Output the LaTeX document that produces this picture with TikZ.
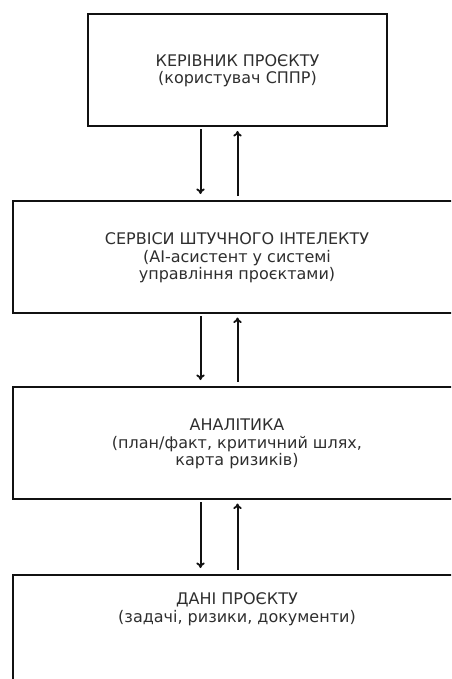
\documentclass[tikz,border=0pt]{standalone}
\usepackage{fontspec}
\setmainfont{DejaVu Sans}
\usetikzlibrary{arrows.meta,calc}
\definecolor{txt}{HTML}{2E2E2E}
\definecolor{ln}{HTML}{111111}
\tikzset{
  box/.style={draw=ln, line width=2pt, minimum width=448pt, minimum height=112pt, inner sep=0pt},
  lbl/.style={text=txt, align=center, font=\fontsize{16pt}{17.5pt}\selectfont},
  arr/.style={draw=ln, line width=2pt, -{To[length=5.5pt,width=8.5pt,line width=1.8pt]}}
}
\begin{document}
\begin{tikzpicture}[x=1pt,y=-1pt]
\useasboundingbox (0,0) rectangle (451,679);
\clip (0,0) rectangle (451,679);
\coordinate (dx) at (200.5,0);
\coordinate (ux) at (237.5,0);
\node[box, minimum width=299pt] (a) at (237.5,70) {};
\node[lbl] (at) at (237.5,70.5) {КЕРІВНИК ПРОЄКТУ\\(користувач СППР)};
\node[box] (b) at (237,256.5) {};
\node[lbl] (bt) at (237,258) {СЕРВІСИ ШТУЧНОГО ІНТЕЛЕКТУ\\(AI-асистент у системі\\управління проєктами)};
\node[box] (c) at (237,442.5) {};
\node[lbl] (ct) at (237,444) {АНАЛІТИКА\\(план/факт, критичний шлях,\\карта ризиків)};
\node[box, minimum height=160pt, anchor=north] (d) at (237,573.5) {};
\node[lbl] (dt) at (237,609) {ДАНІ ПРОЄКТУ\\(задачі, ризики, документи)};
\foreach \u/\l in {a/b,b/c,c/d}{
  \draw[arr] ($(\u.south -| dx)+(0,2.5)$) -- ($(\l.north -| dx)+(0,-5.5)$);
  \draw[arr] ($(\l.north -| ux)+(0,-3.5)$) -- ($(\u.south -| ux)+(0,4)$);
}
\end{tikzpicture}
\end{document}
